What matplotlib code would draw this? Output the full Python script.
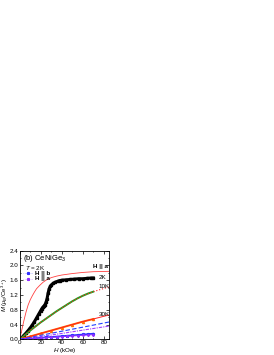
import matplotlib
matplotlib.use('Agg')
import matplotlib.pyplot as plt
from matplotlib.ticker import MultipleLocator

plt.rcParams['font.family'] = ['Liberation Sans', 'DejaVu Sans']
plt.rcParams['mathtext.fontset'] = 'custom'
plt.rcParams['mathtext.rm'] = 'Liberation Sans'
plt.rcParams['mathtext.it'] = 'Liberation Sans:italic'

# 2K, H || a (calc line, red)
h_a2 = [0, 2, 4, 6, 8, 10, 12, 14, 16, 19, 22, 25, 30, 35, 40, 50, 60, 70, 85]
m_a2 = [0, 0.26, 0.51, 0.74, 0.93, 1.07, 1.18, 1.28, 1.37, 1.46, 1.54, 1.60, 1.67, 1.71, 1.74, 1.78, 1.81, 1.83, 1.84]

# 2K data (black squares)
h_2k = [0, 2, 4, 6, 8, 10, 12, 14, 16, 18, 20, 21, 22, 23, 24, 25, 26, 27, 28, 29, 30,
        32, 34, 36, 38, 40, 44, 48, 52, 56, 60, 64, 68, 70]
m_2k = [0, 0.05, 0.11, 0.17, 0.24, 0.31, 0.39, 0.48, 0.58, 0.68, 0.78, 0.83, 0.87, 0.90, 0.94,
        1.00, 1.10, 1.25, 1.37, 1.43, 1.47, 1.52, 1.55, 1.57, 1.59, 1.60, 1.61, 1.62, 1.63,
        1.64, 1.64, 1.65, 1.66, 1.66]

# 10K data (green) and calc (red dotted)
h_10k = [0, 5, 10, 15, 20, 25, 30, 35, 40, 45, 50, 55, 60, 65, 70]
m_10k = [0, 0.12, 0.24, 0.35, 0.46, 0.56, 0.66, 0.76, 0.85, 0.94, 1.03, 1.11, 1.18, 1.24, 1.29]
h_10c = [0, 10, 20, 30, 40, 50, 60, 70, 78, 85]
m_10c = [0, 0.24, 0.46, 0.66, 0.85, 1.03, 1.18, 1.29, 1.36, 1.42]

# 30K data (orange) and calc (red)
h_30k = [0, 10, 20, 30, 40, 50, 60, 70]
m_30k = [0, 0.08, 0.16, 0.24, 0.32, 0.40, 0.48, 0.55]
h_30c = [0, 20, 40, 60, 85]
m_30c = [0, 0.16, 0.32, 0.48, 0.66]

# H || b calc (blue dashed), H || a low (purple dash-dot)
h_bl = [0, 20, 40, 60, 85]
m_bl = [0, 0.11, 0.22, 0.33, 0.47]
m_pl = [0, 0.08, 0.16, 0.25, 0.36]

# 2K, H || b and H || a data (stars)
h_st = [0, 5, 10, 15, 20, 25, 30, 35, 40, 45, 50, 55, 60, 65, 70]
m_stb = [0, 0.01, 0.02, 0.03, 0.045, 0.055, 0.066, 0.077, 0.088, 0.099, 0.11, 0.121, 0.132, 0.143, 0.155]
m_sta = [0, 0.009, 0.018, 0.027, 0.036, 0.045, 0.054, 0.063, 0.072, 0.081, 0.09, 0.099, 0.108, 0.117, 0.126]

fig = plt.figure(figsize=(2.74, 3.55), dpi=100)
ax = fig.add_axes([0.072, 0.044, 0.326, 0.25])

fs = 4.5
ax.plot(h_a2, m_a2, color='#ff4040', lw=0.6)
ax.plot(h_2k, m_2k, color='black', lw=2.2, marker='s', ms=2)
ax.plot(h_10k, m_10k, color='#22a022', lw=1.4)
ax.plot(h_10c, m_10c, color='#ff2020', lw=0.8, ls=':')
ax.plot(h_30k, m_30k, color='#ff7000', lw=1.4, marker='^', ms=1.5)
ax.plot(h_30c, m_30c, color='#ff2020', lw=0.7)
ax.plot(h_bl, m_bl, color='#2040ff', lw=0.8, ls=(0, (4, 2)))
ax.plot(h_bl, m_pl, color='#a040ff', lw=0.8, ls=(0, (3, 1, 1, 1)))
ax.plot(h_st, m_stb, color='#3030ff', lw=1.2, marker='*', ms=2)
ax.plot(h_st, m_sta, color='#9030ff', lw=0.6, marker='*', ms=1.5)

# legend made by hand
ax.plot([3, 13], [1.79, 1.79], color='#8080ff', lw=0.4, ls=':')
ax.plot([8], [1.79], color='#3030ff', marker='*', ms=2)
ax.plot([3, 13], [1.64, 1.64], color='#c080ff', lw=0.4, ls=':')
ax.plot([8], [1.64], color='#9030ff', marker='*', ms=2)
ax.text(15, 1.79, 'H || b', fontsize=fs, fontweight='bold', va='center')
ax.text(15, 1.64, 'H || a', fontsize=fs, fontweight='bold', va='center')
ax.text(5, 1.93, r'$T$ = 2K', fontsize=fs, va='center')
ax.text(3, 2.18, r'(b) CeNiGe$_3$', fontsize=5.5, va='center')
ax.text(84, 1.97, 'H || a', fontsize=fs, fontweight='bold', ha='right', va='center')
ax.text(75, 1.67, '2K', fontsize=fs, va='center')
ax.text(75, 1.43, '10K', fontsize=fs, va='center')
ax.text(75, 0.68, '30K', fontsize=fs, va='center')

ax.set_xlim(0, 85)
ax.set_ylim(0, 2.4)
ax.xaxis.set_major_locator(MultipleLocator(20))
ax.xaxis.set_minor_locator(MultipleLocator(10))
ax.yaxis.set_major_locator(MultipleLocator(0.4))
ax.yaxis.set_minor_locator(MultipleLocator(0.2))
ax.yaxis.set_major_formatter(plt.FormatStrFormatter('%.1f'))
ax.tick_params(which='both', direction='in', top=True, right=True, labelsize=fs, pad=0.8, width=0.5)
ax.tick_params(which='major', length=2)
ax.tick_params(which='minor', length=1)
for s in ax.spines.values():
    s.set_linewidth(0.6)
ax.set_xlabel(r'$H$ (kOe)', fontsize=fs, labelpad=0.3)
ax.set_ylabel(r'$M$ ($\mu_B$/Ce$^{3+}$)', fontsize=4.3)
ax.yaxis.set_label_coords(-0.105, 0.5)

fig.savefig('out.png', dpi=100)
